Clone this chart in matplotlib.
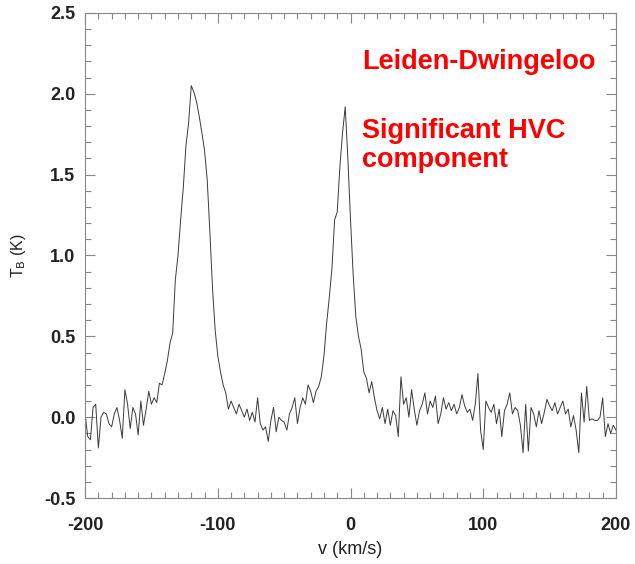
import numpy as np
import matplotlib.pyplot as plt
from matplotlib.ticker import MultipleLocator

# Velocity channels (km/s), 2 km/s spacing
velocity = np.arange(-200, 201, 2)

# Brightness temperature (K)
t_b = [
    0.02, -0.12, -0.14, 0.06, 0.08, -0.19, 0.00, 0.03, 0.02, -0.04,   # -200 .. -182
    -0.06, 0.02, 0.06, -0.02, -0.13, 0.17, 0.08, -0.07, 0.06, 0.02,   # -180 .. -162
    -0.11, 0.10, -0.05, 0.05, 0.16, 0.08, 0.12, 0.09, 0.21, 0.20,     # -160 .. -142
    0.27, 0.35, 0.46, 0.52, 0.85, 1.00, 1.22, 1.42, 1.68, 1.82,       # -140 .. -122
    2.05, 2.01, 1.95, 1.86, 1.76, 1.65, 1.47, 1.15, 0.80, 0.54,       # -120 .. -102
    0.38, 0.28, 0.20, 0.15, 0.05, 0.10, 0.06, 0.02, 0.08, 0.04,       # -100 .. -82
    0.00, 0.05, -0.02, 0.03, -0.03, 0.12, -0.04, -0.08, -0.06, -0.15, # -80 .. -62
    -0.02, 0.06, -0.09, 0.00, -0.02, -0.03, -0.08, 0.02, 0.06, 0.12,  # -60 .. -42
    -0.04, 0.06, 0.12, 0.08, 0.20, 0.16, 0.09, 0.16, 0.19, 0.25,      # -40 .. -22
    0.38, 0.58, 0.74, 0.92, 1.22, 1.27, 1.55, 1.76, 1.92, 1.60,       # -20 .. -2
    1.22, 0.88, 0.62, 0.50, 0.42, 0.28, 0.24, 0.15, 0.22, 0.12,       # 0 .. 18
    0.04, -0.01, 0.06, -0.04, 0.05, -0.05, 0.04, 0.01, -0.12, 0.25,   # 20 .. 38
    0.08, 0.12, 0.00, 0.17, 0.05, -0.05, 0.04, 0.08, 0.15, 0.02,      # 40 .. 58
    0.10, 0.06, 0.13, -0.04, 0.02, 0.12, 0.05, 0.09, 0.04, 0.08,      # 60 .. 78
    0.02, 0.06, 0.14, 0.07, 0.03, 0.05, -0.02, 0.08, 0.27, -0.08,     # 80 .. 98
    -0.20, 0.10, 0.06, 0.03, 0.08, -0.04, 0.05, -0.12, 0.04, 0.08,    # 100 .. 118
    0.15, 0.02, 0.06, 0.04, -0.05, -0.22, 0.08, -0.21, 0.06, 0.02,    # 120 .. 138
    -0.06, 0.04, -0.04, 0.03, 0.11, 0.07, 0.04, 0.09, 0.02, 0.06,     # 140 .. 158
    0.10, 0.02, 0.05, -0.06, 0.01, -0.08, -0.22, 0.15, -0.03, 0.19,   # 160 .. 178
    -0.02, -0.01, -0.02, -0.02, 0.00, 0.12, -0.12, -0.04, -0.10, -0.05, -0.08,  # 180 .. 200
]

plt.rcParams['font.family'] = ['Liberation Sans', 'DejaVu Sans']
plt.rcParams['axes.unicode_minus'] = False

fig = plt.figure(figsize=(6.35, 5.64), dpi=100)
ax = fig.add_axes([0.134, 0.117, 0.836, 0.860])

ax.plot(velocity, t_b, color='#3a3a3a', linewidth=0.7)

ax.set_xlim(-200, 200)
ax.set_ylim(-0.5, 2.5)
ax.xaxis.set_major_locator(MultipleLocator(100))
ax.xaxis.set_minor_locator(MultipleLocator(10))
ax.yaxis.set_major_locator(MultipleLocator(0.5))
ax.yaxis.set_minor_locator(MultipleLocator(0.1))
ax.yaxis.set_major_formatter(plt.FormatStrFormatter('%.1f'))

ax.tick_params(which='both', direction='in', top=True, right=True,
               color='#888888', width=0.8)
ax.tick_params(which='major', length=7, labelsize=13)
ax.tick_params(axis='x', which='major', pad=14)
ax.tick_params(axis='y', which='major', pad=7)
ax.tick_params(which='minor', length=4)
for lab in ax.get_xticklabels() + ax.get_yticklabels():
    lab.set_fontweight('bold')
    lab.set_color('#222222')
for s in ax.spines.values():
    s.set_color('#888888')
    s.set_linewidth(0.8)

ax.set_xlabel('v (km/s)', fontsize=13, color='#222222', labelpad=5)
ax.set_ylabel(r'T$_{\rm B}$ (K)', fontsize=11.5, color='#222222')
ax.yaxis.set_label_coords(-0.108, 0.5)

ax.text(0.522, 0.899, 'Leiden-Dwingeloo', transform=ax.transAxes,
        color='#ff0000', fontsize=19.5, fontweight='bold', va='center')
ax.text(0.522, 0.727, 'Significant HVC\ncomponent', transform=ax.transAxes,
        color='#ff0000', fontsize=19.5, fontweight='bold', va='center',
        linespacing=1.18)

fig.savefig('out.png', dpi=100)
